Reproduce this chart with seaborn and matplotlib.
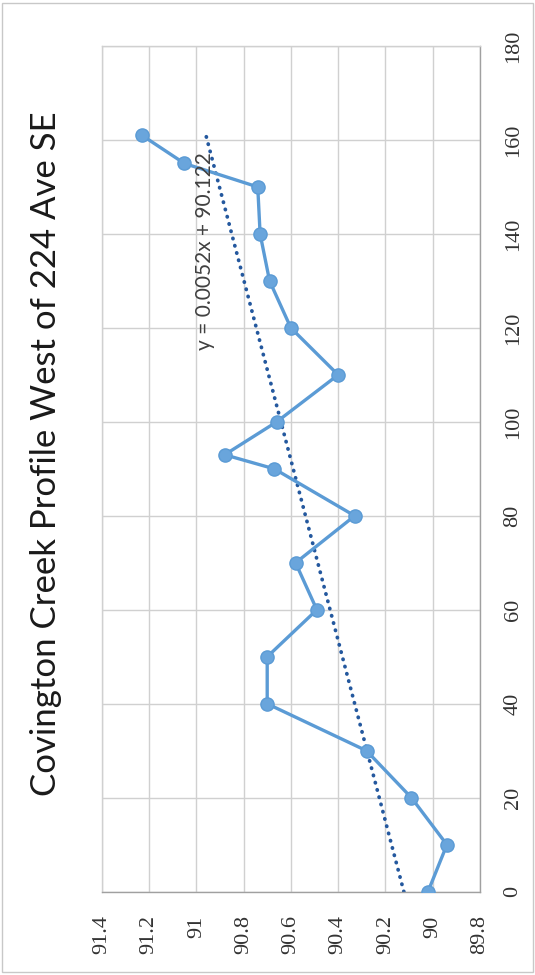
import numpy as np
import pandas as pd
import matplotlib
matplotlib.use("Agg")
import matplotlib.pyplot as plt
import seaborn as sns
from matplotlib.patches import Rectangle

# Survey stations along the creek and the measured elevations
station = [0, 10, 20, 30, 40, 50, 60, 70, 80, 90, 93, 100, 110, 120, 130, 140, 150, 155, 161]
elevation = [90.02, 89.94, 90.09, 90.28, 90.70, 90.70, 90.49, 90.58, 90.33, 90.67, 90.88,
             90.66, 90.40, 90.60, 90.69, 90.73, 90.74, 91.05, 91.23]

# Linear trendline reported on the chart
trend_slope = 0.0052
trend_intercept = 90.122
trend_label = "y = 0.0052x + 90.122"

title = "Covington Creek Profile West of 224 Ave SE"
elev_ticks = [89.8, 90.0, 90.2, 90.4, 90.6, 90.8, 91.0, 91.2, 91.4]
elev_labels = ["89.8", "90", "90.2", "90.4", "90.6", "90.8", "91", "91.2", "91.4"]
station_ticks = [0, 20, 40, 60, 80, 100, 120, 140, 160, 180]

df = pd.DataFrame({"station": station, "elevation": elevation})

sns.set_theme(style="white")
plt.rcParams["font.family"] = ["Lato", "DejaVu Sans"]

fig = plt.figure(figsize=(5.35, 9.75), dpi=100)
ax = fig.add_axes([101.7 / 535, 1 - 891.7 / 975, (480 - 101.7) / 535, (891.7 - 46) / 975])

# The page is turned sideways: elevation runs right-to-left, station runs upward
sns.lineplot(data=df, x="elevation", y="station", orient="y", sort=False, estimator=None,
             color="#5b9bd5", linewidth=2.4, marker="o", markersize=9.5,
             markerfacecolor="#69a5dc", markeredgecolor="#5b9bd5", markeredgewidth=1,
             ax=ax, zorder=3)

trend_st = np.array([0, max(station)])
trend_el = trend_slope * trend_st + trend_intercept
ax.plot(trend_el, trend_st, color="#24589e", linewidth=2.7,
        linestyle=(0, (0.1, 1.9)), dash_capstyle="round", zorder=2)

ax.text(90.963, 136.4, trend_label, rotation=90, ha="center", va="center",
        fontsize=15, color="#404040", zorder=4)

ax.set_xlim(91.4, 89.8)
ax.set_ylim(0, 180)
ax.set_xticks(elev_ticks)
ax.set_xticklabels(elev_labels, rotation=90, fontsize=16, color="#333333",
                   family=["Liberation Serif"])
ax.set_yticks(station_ticks)
ax.set_yticklabels([str(s) for s in station_ticks], rotation=90, va="center",
                   fontsize=16, color="#333333", family=["Liberation Serif"])
ax.yaxis.tick_right()
ax.tick_params(axis="x", length=0, pad=17)
ax.tick_params(axis="y", length=0, pad=17)
ax.set_xlabel("")
ax.set_ylabel("")

ax.grid(True, color="#d0d0d0", linewidth=1)
ax.set_axisbelow(True)
for side, col in {"top": "#d0d0d0", "left": "#d0d0d0", "bottom": "#a0a0a0", "right": "#a0a0a0"}.items():
    ax.spines[side].set_color(col)
    ax.spines[side].set_linewidth(1)

fig.text(46 / 535, 1 - 454 / 975, title, rotation=90, ha="center", va="center",
         fontsize=25, color="#1a1a1a")

fig.patches.append(Rectangle((0.004, 0.003), 0.992, 0.994, transform=fig.transFigure,
                             fill=False, edgecolor="#c8c8c8", linewidth=1))

fig.savefig("out.png", dpi=100)
